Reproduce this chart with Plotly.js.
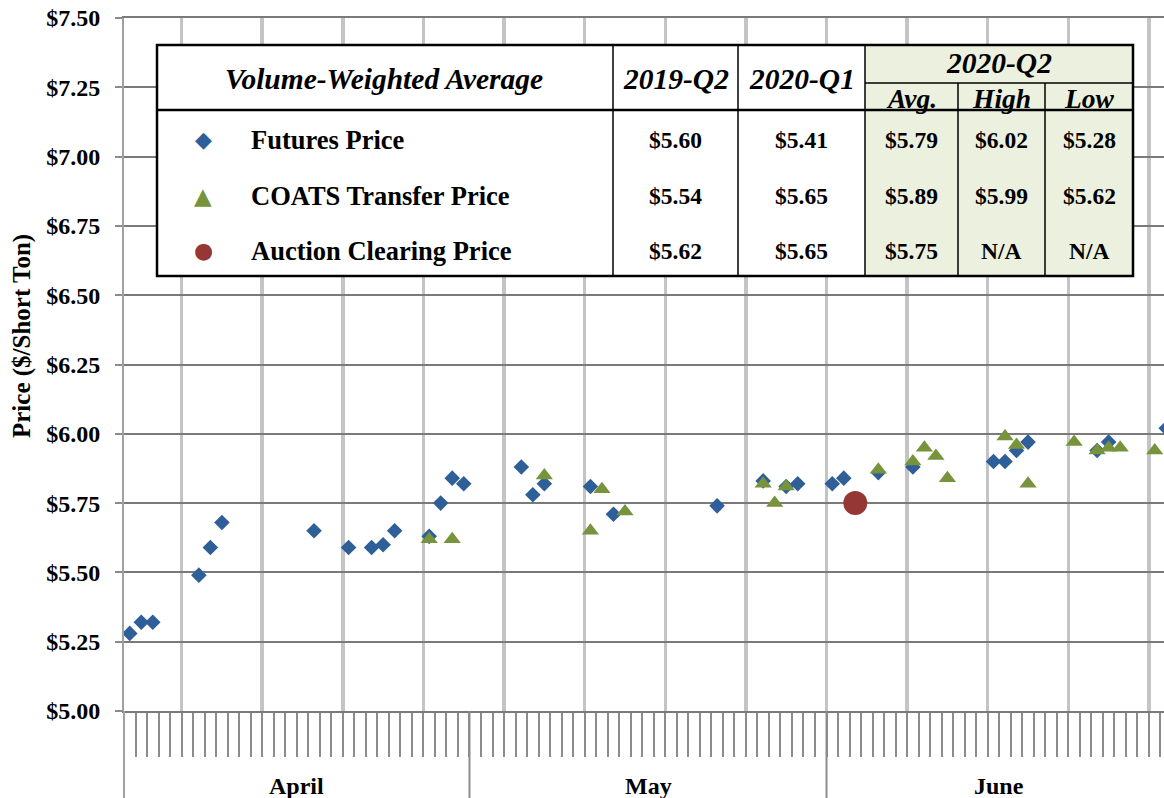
<!DOCTYPE html>
<html>
<head>
<meta charset="utf-8">
<script src="https://cdn.plot.ly/plotly-3.0.1.min.js"></script>
<style>
html, body { margin: 0; padding: 0; overflow: hidden; background: #fff; }
#chart { width: 1200px; height: 798px; }
</style>
</head>
<body>
<div id="chart"></div>
<script>
// ---------- Data ----------
const futuresDates = ['2020-04-01','2020-04-02','2020-04-03','2020-04-07','2020-04-08','2020-04-09',
  '2020-04-17','2020-04-20','2020-04-22','2020-04-23','2020-04-24','2020-04-27','2020-04-28',
  '2020-04-29','2020-04-30','2020-05-05','2020-05-06','2020-05-07','2020-05-11','2020-05-13',
  '2020-05-22','2020-05-26','2020-05-28','2020-05-29','2020-06-01','2020-06-02','2020-06-05',
  '2020-06-08','2020-06-15','2020-06-16','2020-06-17','2020-06-18','2020-06-24','2020-06-25',
  '2020-06-30'];
const futuresPrice = [5.28,5.32,5.32,5.49,5.59,5.68,
  5.65,5.59,5.59,5.60,5.65,5.63,5.75,
  5.84,5.82,5.88,5.78,5.82,5.81,5.71,
  5.74,5.83,5.81,5.82,5.82,5.84,5.86,
  5.88,5.90,5.90,5.94,5.97,5.94,5.97,
  6.02];

const coatsDates = ['2020-04-27','2020-04-29','2020-05-07','2020-05-11','2020-05-12','2020-05-14',
  '2020-05-26','2020-05-27','2020-05-28','2020-06-05','2020-06-08','2020-06-09','2020-06-10',
  '2020-06-11','2020-06-16','2020-06-17','2020-06-18','2020-06-22','2020-06-24','2020-06-25',
  '2020-06-26','2020-06-29'];
const coatsPrice = [5.62,5.62,5.85,5.65,5.80,5.72,
  5.82,5.75,5.81,5.87,5.90,5.95,5.92,
  5.84,5.99,5.96,5.82,5.97,5.94,5.95,
  5.95,5.94];

const auctionDates = ['2020-06-03'];
const auctionPrice = [5.75];

const monthLabels = ['April', 'May', 'June'];
const monthStarts = ['2020-04-01', '2020-05-01', '2020-06-01'];
const monthMids = ['2020-04-16', '2020-05-16 12:00', '2020-06-16'];
const yTitle = 'Price ($/Short Ton)';

// Table content
const tableHeader = 'Volume-Weighted Average';
const periodHeaders = ['2019-Q2', '2020-Q1'];
const q2Header = '2020-Q2';
const q2SubHeaders = ['Avg.', 'High', 'Low'];
const seriesNames = ['Futures Price', 'COATS Transfer Price', 'Auction Clearing Price'];
const col2019Q2 = ['$5.60', '$5.54', '$5.62'];
const col2020Q1 = ['$5.41', '$5.65', '$5.65'];
const colQ2Avg = ['$5.79', '$5.89', '$5.75'];
const colQ2High = ['$6.02', '$5.99', 'N/A'];
const colQ2Low = ['$5.28', '$5.62', 'N/A'];

// ---------- Styles ----------
const BLUE = '#2f5f98';
const GREEN = '#77933c';
const RED = '#953735';
const SERIF = 'Liberation Serif, Times New Roman, serif';

// geometry helpers (layout pixels -> paper fraction) for the table overlay
const W = 1200, H = 798, ML = 124, MR = 28, MT = 18, MB = 87;
const PW = W - ML - MR, PH = H - MT - MB;
const X = px => (px - ML) / PW;
const Y = py => (H - MB - py) / PH;

const noon = d => d.length > 10 ? d : d + ' 12:00';

const traces = [
  { type: 'scatter', mode: 'markers', name: seriesNames[0],
    x: futuresDates.map(noon), y: futuresPrice,
    marker: { symbol: 'diamond', size: 12, color: BLUE }, cliponaxis: false },
  { type: 'scatter', mode: 'markers', name: seriesNames[1],
    x: coatsDates.map(noon), y: coatsPrice,
    marker: { symbol: 'triangle-up', size: 15, color: GREEN } },
  { type: 'scatter', mode: 'markers', name: seriesNames[2],
    x: auctionDates.map(noon), y: auctionPrice,
    marker: { symbol: 'circle', size: 24, color: RED } }
];

const shapes = [];
const annotations = [];

// month separators below the axis
monthStarts.forEach((d, i) => {
  if (i === 0) {
    shapes.push({ type: 'line', xref: 'paper', yref: 'paper', x0: 0, x1: 0, y0: 0, y1: Y(H + 2),
      line: { color: '#a0a0a0', width: 2 } });
  } else {
    shapes.push({ type: 'line', xref: 'x', yref: 'paper', x0: d, x1: d, y0: 0, y1: Y(H + 2),
      line: { color: '#8c8c8c', width: 2 } });
  }
});
monthLabels.forEach((m, i) => {
  annotations.push({ text: m, xref: 'x', yref: 'paper', x: monthMids[i], y: Y(786),
    xanchor: 'center', yanchor: 'middle', showarrow: false,
    font: { family: SERIF, size: 24, color: '#000', weight: 'bold' } });
});

// y-axis title
annotations.push({ text: yTitle, xref: 'paper', yref: 'paper', x: X(22), y: Y(336),
  xanchor: 'center', yanchor: 'middle', textangle: -90, showarrow: false,
  font: { family: SERIF, size: 25, color: '#000', weight: 'bold' } });

// ---------- Table ----------
const tL = 157, tR = 1133, tT = 45, tB = 276, hB = 110, subY = 83;
const cols = [613, 738, 865, 958, 1045];
const lineBlack = w => ({ color: '#000', width: w });
function rect(x0, y0, x1, y1, fill, lw) {
  shapes.push({ type: 'rect', xref: 'paper', yref: 'paper', layer: 'above',
    x0: X(x0), x1: X(x1), y0: Y(y1), y1: Y(y0), fillcolor: fill, line: lw ? lineBlack(lw) : { width: 0 } });
}
function seg(x0, y0, x1, y1, w) {
  shapes.push({ type: 'line', xref: 'paper', yref: 'paper', layer: 'above',
    x0: X(x0), x1: X(x1), y0: Y(y0), y1: Y(y1), line: lineBlack(w) });
}
rect(tL, tT, tR, tB, '#ffffff', 0);
rect(cols[2], tT, tR, tB, '#ebf1de', 0);
seg(tL, hB, tR, hB, 2.5);
seg(cols[2], subY, tR, subY, 1.5);
seg(cols[0], tT, cols[0], tB, 1.5);
seg(cols[1], tT, cols[1], tB, 1.5);
seg(cols[2], tT, cols[2], tB, 1.5);
seg(cols[3], subY, cols[3], tB, 1.5);
seg(cols[4], subY, cols[4], tB, 1.5);
rect(tL, tT, tR, tB, 'rgba(0,0,0,0)', 2.5);

function txt(t, px, py, size, opts) {
  opts = opts || {};
  annotations.push({ text: t, xref: 'paper', yref: 'paper', x: X(px), y: Y(py),
    xanchor: opts.anchor || 'center', yanchor: 'middle', showarrow: false,
    font: { family: opts.family || SERIF, size: size, color: opts.color || '#000',
      weight: opts.weight || 'bold', style: opts.style || 'normal' } });
}
const hdrCenters = [(cols[0] + cols[1]) / 2, (cols[1] + cols[2]) / 2];
const valCenters = [(cols[0] + cols[1]) / 2, (cols[1] + cols[2]) / 2, (cols[2] + cols[3]) / 2,
  (cols[3] + cols[4]) / 2, (cols[4] + tR) / 2];
txt(tableHeader, 384, 79, 29.5, { style: 'italic' });
periodHeaders.forEach((h, i) => txt(h, hdrCenters[i], 79, 29.5, { style: 'italic' }));
txt(q2Header, (cols[2] + tR) / 2, 63, 29.5, { style: 'italic' });
q2SubHeaders.forEach((h, i) => txt(h, valCenters[i + 2], 98, 27.5, { style: 'italic' }));

const rowY = [140, 196, 251];
const markerGlyphs = ['◆', '▲', '●'];
const markerColors = [BLUE, GREEN, RED];
const markerSizes = [22, 23, 22];
const columns = [col2019Q2, col2020Q1, colQ2Avg, colQ2High, colQ2Low];
seriesNames.forEach((name, r) => {
  txt(markerGlyphs[r], 203, rowY[r], markerSizes[r], { family: 'DejaVu Sans', color: markerColors[r], weight: 'normal' });
  txt(name, 249, rowY[r], 26.5, { anchor: 'left' });
  columns.forEach((col, c) => txt(col[r], valCenters[c], rowY[r], 23.5));
});

const layout = {
  width: W, height: H,
  margin: { l: ML, r: MR, t: MT, b: MB },
  paper_bgcolor: '#ffffff', plot_bgcolor: '#ffffff',
  showlegend: false,
  font: { family: SERIF, color: '#000' },
  xaxis: {
    type: 'date',
    range: ['2020-04-01', '2020-07-01'],
    showticklabels: false,
    tick0: '2020-04-06', dtick: 7 * 86400000,
    ticks: 'outside', ticklen: 44, tickwidth: 2, tickcolor: '#8c8c8c',
    showgrid: true, gridcolor: '#c4c4c4', gridwidth: 3.5,
    minor: { tick0: '2020-04-01', dtick: 86400000, ticks: 'outside', ticklen: 44,
      tickwidth: 2, tickcolor: '#8c8c8c', showgrid: false },
    showline: true, linecolor: '#7a7a7a', linewidth: 2, mirror: true,
    zeroline: false, fixedrange: true
  },
  yaxis: {
    range: [5, 7.5],
    tick0: 5, dtick: 0.25,
    tickformat: '$.2f',
    ticks: 'outside', ticklen: 7, tickwidth: 2, tickcolor: '#8c8c8c',
    ticklabelstandoff: 10,
    tickfont: { family: SERIF, size: 24, color: '#000', weight: 'bold' },
    showgrid: true, gridcolor: '#7a7a7a', gridwidth: 2,
    showline: true, linecolor: '#a0a0a0', linewidth: 2,
    zeroline: false, fixedrange: true
  },
  shapes: shapes,
  annotations: annotations
};

Plotly.newPlot('chart', traces, layout, { staticPlot: true, displayModeBar: false });
</script>
</body>
</html>
